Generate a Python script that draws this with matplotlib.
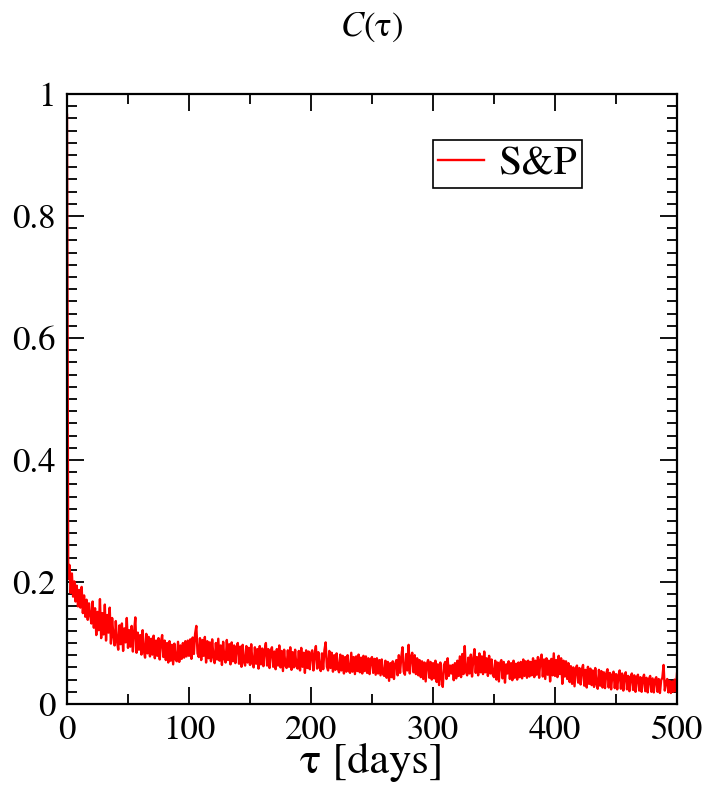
import matplotlib
matplotlib.use("Agg")
import matplotlib.pyplot as plt
import numpy as np

plt.rcParams['font.family'] = ['STIXGeneral', 'DejaVu Serif']
plt.rcParams['mathtext.fontset'] = 'stix'

# C(tau) for tau = 0..500 days
c_tau = [
    0.966, 0.205, 0.228, 0.182, 0.214, 0.176, 0.201, 0.168, 0.194, 0.160,
    0.187, 0.158, 0.192, 0.149, 0.178, 0.143, 0.171, 0.138, 0.165, 0.146,
    0.132, 0.168, 0.125, 0.157, 0.113, 0.151, 0.121, 0.172, 0.108, 0.149,
    0.114, 0.163, 0.104, 0.146, 0.117, 0.158, 0.099, 0.141, 0.112, 0.096,
    0.136, 0.103, 0.089, 0.129, 0.098, 0.132, 0.087, 0.124, 0.101, 0.141,
    0.092, 0.121, 0.094, 0.128, 0.086, 0.118, 0.142, 0.084, 0.117, 0.089,
    0.113, 0.081, 0.121, 0.087, 0.076, 0.115, 0.083, 0.110, 0.078, 0.107,
    0.081, 0.112, 0.075, 0.104, 0.079, 0.108, 0.073, 0.102, 0.113, 0.077,
    0.104, 0.072, 0.100, 0.068, 0.103, 0.071, 0.097, 0.065, 0.099, 0.073,
    0.070, 0.102, 0.069, 0.096, 0.074, 0.100, 0.076, 0.103, 0.078, 0.104,
    0.079, 0.106, 0.074, 0.109, 0.082, 0.115, 0.128, 0.083, 0.077, 0.108,
    0.072, 0.105, 0.079, 0.110, 0.068, 0.103, 0.075, 0.101, 0.070, 0.106,
    0.077, 0.067, 0.100, 0.073, 0.107, 0.071, 0.096, 0.064, 0.102, 0.074,
    0.068, 0.105, 0.072, 0.098, 0.065, 0.101, 0.070, 0.096, 0.067, 0.093,
    0.100, 0.066, 0.094, 0.061, 0.097, 0.069, 0.063, 0.095, 0.068, 0.092,
    0.064, 0.098, 0.067, 0.060, 0.093, 0.066, 0.090, 0.058, 0.095, 0.065,
    0.091, 0.062, 0.088, 0.100, 0.063, 0.090, 0.059, 0.087, 0.093, 0.061,
    0.086, 0.057, 0.090, 0.063, 0.096, 0.060, 0.087, 0.054, 0.089, 0.063,
    0.059, 0.088, 0.061, 0.093, 0.056, 0.085, 0.060, 0.089, 0.062, 0.058,
    0.087, 0.055, 0.092, 0.061, 0.084, 0.051, 0.088, 0.059, 0.086, 0.057,
    0.083, 0.088, 0.055, 0.082, 0.095, 0.058, 0.085, 0.060, 0.054, 0.083,
    0.057, 0.088, 0.101, 0.061, 0.055, 0.087, 0.059, 0.084, 0.053, 0.080,
    0.056, 0.083, 0.058, 0.052, 0.081, 0.055, 0.079, 0.050, 0.077, 0.053,
    0.080, 0.055, 0.051, 0.084, 0.053, 0.077, 0.049, 0.078, 0.054, 0.081,
    0.052, 0.076, 0.050, 0.079, 0.054, 0.078, 0.051, 0.075, 0.049, 0.073,
    0.077, 0.051, 0.074, 0.048, 0.075, 0.050, 0.072, 0.047, 0.073, 0.049,
    0.046, 0.071, 0.043, 0.069, 0.038, 0.067, 0.044, 0.070, 0.041, 0.066,
    0.072, 0.047, 0.080, 0.051, 0.077, 0.093, 0.053, 0.048, 0.082, 0.055,
    0.097, 0.050, 0.078, 0.084, 0.052, 0.080, 0.049, 0.075, 0.047, 0.072,
    0.044, 0.070, 0.041, 0.068, 0.037, 0.066, 0.072, 0.043, 0.069, 0.040,
    0.067, 0.042, 0.071, 0.036, 0.065, 0.031, 0.068, 0.043, 0.028, 0.064,
    0.069, 0.041, 0.075, 0.046, 0.063, 0.050, 0.064, 0.039, 0.067, 0.042,
    0.071, 0.046, 0.078, 0.044, 0.082, 0.049, 0.095, 0.053, 0.047, 0.076,
    0.050, 0.081, 0.045, 0.074, 0.090, 0.051, 0.077, 0.047, 0.083, 0.052,
    0.078, 0.049, 0.086, 0.052, 0.075, 0.046, 0.079, 0.050, 0.073, 0.048,
    0.044, 0.071, 0.040, 0.068, 0.037, 0.067, 0.072, 0.042, 0.069, 0.035,
    0.065, 0.050, 0.070, 0.041, 0.067, 0.039, 0.071, 0.043, 0.066, 0.040,
    0.068, 0.044, 0.069, 0.042, 0.073, 0.046, 0.070, 0.043, 0.071, 0.045,
    0.069, 0.047, 0.075, 0.044, 0.071, 0.048, 0.077, 0.043, 0.072, 0.081,
    0.045, 0.073, 0.041, 0.075, 0.048, 0.071, 0.037, 0.074, 0.047, 0.083,
    0.046, 0.072, 0.044, 0.079, 0.049, 0.075, 0.033, 0.071, 0.045, 0.070,
    0.041, 0.067, 0.036, 0.062, 0.033, 0.060, 0.029, 0.058, 0.063, 0.035,
    0.059, 0.032, 0.057, 0.064, 0.030, 0.056, 0.027, 0.061, 0.033, 0.058,
    0.031, 0.055, 0.028, 0.059, 0.033, 0.025, 0.056, 0.030, 0.054, 0.027,
    0.052, 0.026, 0.050, 0.057, 0.027, 0.051, 0.024, 0.048, 0.053, 0.026,
    0.049, 0.024, 0.047, 0.055, 0.025, 0.050, 0.022, 0.046, 0.052, 0.024,
    0.046, 0.021, 0.044, 0.050, 0.023, 0.047, 0.020, 0.043, 0.048, 0.022,
    0.044, 0.020, 0.042, 0.048, 0.021, 0.043, 0.019, 0.041, 0.046, 0.020,
    0.042, 0.019, 0.040, 0.044, 0.020, 0.041, 0.018, 0.039, 0.043, 0.064,
    0.022, 0.036, 0.041, 0.019, 0.038, 0.018, 0.037, 0.020, 0.040, 0.021,
    0.050,
]
tau = np.arange(len(c_tau))

x_ticks = [0, 100, 200, 300, 400, 500]
y_ticks = [0, 0.2, 0.4, 0.6, 0.8, 1]
y_labels = ['0', '0.2', '0.4', '0.6', '0.8', '1']

fig = plt.figure(figsize=(7.08, 7.88), dpi=100)
ax = fig.add_axes([67 / 708, 84 / 788, 610 / 708, 610 / 788])

ax.plot(tau, c_tau, color='red', lw=1.7, label='S&P')

ax.set_xlim(0, 500)
ax.set_ylim(0, 1)
ax.set_xticks(x_ticks)
ax.set_xticks(np.arange(50, 500, 100), minor=True)
ax.set_yticks(y_ticks)
ax.set_yticklabels(y_labels)
ax.set_yticks(np.arange(0, 1.001, 0.02), minor=True)

ax.tick_params(which='both', direction='in', top=True, right=True,
               labelsize=25, width=1.3)
ax.tick_params(which='major', length=12)
ax.tick_params(which='minor', length=7)
ax.tick_params(axis='x', pad=8)
ax.tick_params(axis='y', pad=8)
for s in ax.spines.values():
    s.set_linewidth(1.6)

ax.set_xlabel('τ [days]', fontsize=32, labelpad=-3)
ax.set_title('$C$(τ)', fontsize=25, pad=42)

leg = ax.legend(loc='upper right', bbox_to_anchor=(515 / 610, 564 / 610),
                borderaxespad=0, fontsize=30, fancybox=False, framealpha=1,
                edgecolor='black', handlelength=1.1, handletextpad=0.35,
                borderpad=0.12)
leg.get_frame().set_linewidth(1.2)

fig.savefig('out.png', dpi=100)
